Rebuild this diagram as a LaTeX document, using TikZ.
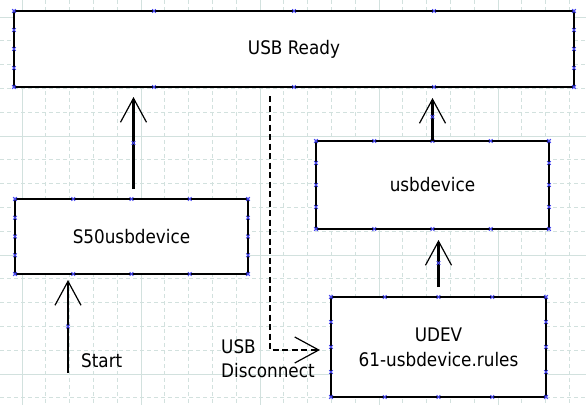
\documentclass[tikz,border=0pt]{standalone}
\usepackage{fontspec}
\setmainfont{DejaVu Sans Condensed}
\usetikzlibrary{arrows.meta,calc}
\definecolor{gridc}{RGB}{210,225,222}
\definecolor{mkc}{RGB}{70,70,240}
\begin{document}
\begin{tikzpicture}[x=1pt,y=-1pt,
  txt/.style={font=\fontsize{18.7}{25}\selectfont, text=black, inner sep=0pt},
  box/.style={txt, draw=black, fill=white, line width=2.5pt, outer sep=0pt, align=center},
  conn/.style={line width=2.3pt, -{Straight Barb[length=24pt,width=26pt,line width=1.2pt]}},
  dconn/.style={conn, line width=2.2pt, dash pattern=on 6pt off 3.5pt},
  mk/.style={draw=mkc, line width=0.8pt, -, solid},
  gridd/.style={draw=gridc, line width=0.9pt, dash pattern=on 4pt off 3pt},
  grids/.style={draw=gridc, line width=1pt},
  xmark/.pic={\draw[mk] (-1.8,-1.8) -- (1.8,1.8) (-1.8,1.8) -- (1.8,-1.8);}
]
\useasboundingbox[fill=white] (0,0) rectangle (586,405);
% grid
\foreach \i in {0,...,24} {
  \pgfmathsetmacro\gx{-1.8+23.8*\i}
  \draw[gridd] (\gx,0) -- (\gx,405);
}
\foreach \i in {0,...,17} {
  \pgfmathsetmacro\gy{-6.8+23.8*\i}
  \draw[gridd] (0,\gy) -- (586,\gy);
}
\foreach \gx in {22,141,260,379,498} \draw[grids] (\gx,0) -- (\gx,405);
\foreach \gy in {17,136,255,374} \draw[grids] (0,\gy) -- (586,\gy);

% boxes
\node[box, minimum width=560pt, minimum height=76pt] (ready) at (294,49) {USB Ready};
\node[box, minimum width=233pt, minimum height=75pt] (s50) at (131.5,236.5) {S50usbdevice};
\node[box, minimum width=233pt, minimum height=88pt] (usbd) at (432.5,185) {usbdevice};
\node[box, minimum width=215pt, minimum height=100pt] (udev) at (438.5,347) {UDEV\\61-usbdevice.rules};

% connection markers
\foreach \n in {ready,s50,usbd,udev} {
  \foreach \f in {0,0.25,0.5,0.75,1} {
    \path ($(\n.north west)!\f!(\n.north east)$) pic{xmark};
    \path ($(\n.south west)!\f!(\n.south east)$) pic{xmark};
    \path ($(\n.north west)!\f!(\n.south west)$) pic{xmark};
    \path ($(\n.north east)!\f!(\n.south east)$) pic{xmark};
  }
}

% labels
\node[txt, anchor=base west] (start) at (81,367) {Start};
\node[txt, anchor=base west] (usb1) at (221,353) {USB};
\node[txt, anchor=base west] (usb2) at (221,377) {Disconnect};

% connectors
\coordinate (st0) at (68,373);
\coordinate (d0) at (270,87);
\draw[conn, shorten <=10pt, shorten >=10pt] ([xshift=2pt]s50.north) -- ([xshift=2pt]s50.north |- ready.south);
\draw[conn, shorten >=11pt] (usbd.north) -- (usbd.north |- ready.south);
\draw[conn, shorten <=10pt, shorten >=11pt] (udev.north) -- (udev.north |- usbd.south);
\draw[conn, shorten >=6pt] (st0) -- (st0 |- s50.south);
\draw[dconn, shorten <=9pt, shorten >=11pt] (d0) |- ([yshift=-3pt]udev.west);

% midpoint markers on connectors
\path ([xshift=2pt]s50.north) -- ([xshift=2pt]s50.north |- ready.south) pic[pos=0.5]{xmark};
\path (usbd.north) -- (usbd.north |- ready.south) pic[pos=0.45]{xmark};
\path (udev.north) -- (udev.north |- usbd.south) pic[pos=0.5]{xmark};
\path (st0) -- (st0 |- s50.south) pic[pos=0.47]{xmark};
\end{tikzpicture}
\end{document}
